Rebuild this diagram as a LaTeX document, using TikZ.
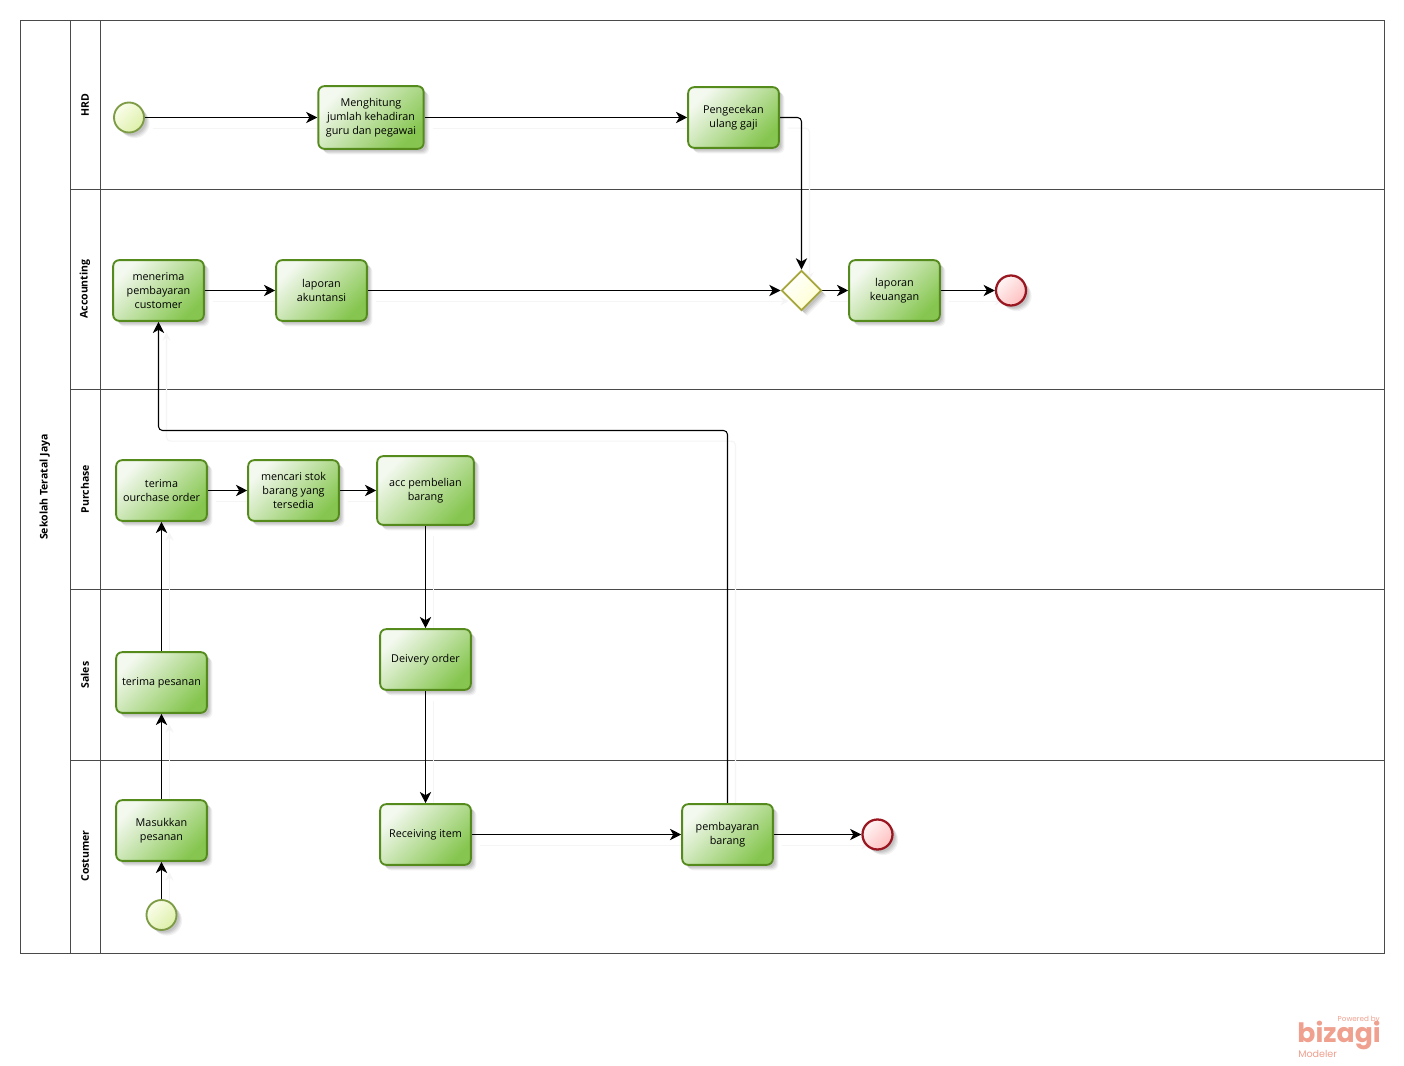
\documentclass[tikz,border=0pt]{standalone}
\usepackage{fontspec}
\setmainfont{Open Sans}
\newfontfamily\logofont{Poppins}
\usetikzlibrary{arrows.meta,shadows,shapes.geometric,calc,backgrounds}
\definecolor{taskline}{HTML}{558A1C}
\definecolor{taskdark}{HTML}{86C650}
\definecolor{tasklight}{HTML}{F4F9F0}
\definecolor{startline}{HTML}{7D9C45}
\definecolor{startlight}{HTML}{FAFDEB}
\definecolor{startdark}{HTML}{DDF0A8}
\definecolor{endline}{HTML}{9A1620}
\definecolor{gateline}{HTML}{A6A63A}
\definecolor{laneline}{HTML}{4A4A4A}
\definecolor{logocol}{HTML}{EFA08E}
\tikzset{
  softshadow/.style={
    drop shadow={shadow xshift=4.2pt,shadow yshift=-4.2pt,opacity=.05,fill=black},
    drop shadow={shadow xshift=3.4pt,shadow yshift=-3.4pt,opacity=.06,fill=black},
    drop shadow={shadow xshift=2.6pt,shadow yshift=-2.6pt,opacity=.07,fill=black},
    drop shadow={shadow xshift=1.8pt,shadow yshift=-1.8pt,opacity=.07,fill=black}},
  taskbox/.style={draw=taskline,line width=1.4pt,rounded corners=4.5pt,softshadow,
    left color=tasklight,right color=taskdark,shading angle=45,
    minimum width=#1,align=center,inner sep=0pt,font=\fontsize{8.1}{10.5}\selectfont},
  taskbox/.default=68pt,
  startev/.style={circle,draw=startline,line width=1.4pt,minimum size=22.5pt,inner sep=0pt,softshadow,
    left color=startlight,right color=startdark,shading angle=45},
  endev/.style={circle,draw=endline,line width=1.7pt,minimum size=22.5pt,inner sep=0pt,softshadow,
    left color=red!4,right color=red!25!white,shading angle=45},
  gate/.style={diamond,aspect=1,draw=gateline,line width=1.4pt,minimum size=30pt,inner sep=0pt,softshadow,
    left color=white,right color=yellow!18!white,shading angle=45},
  conn/.style={draw=black,line width=.8pt,rounded corners=3pt,-{Stealth[length=8.5pt,width=8.5pt,inset=2.5pt]},
    preaction={draw=black!4,line width=.8pt,-{Stealth[length=6pt,width=6pt,inset=2pt]},
      transform canvas={shift={(6pt,-8pt)}}}},
  laneedge/.style={draw=laneline,line width=.7pt},
  lanelabel/.style={rotate=90,font=\fontsize{7.9}{9}\selectfont\bfseries}
}
\begin{document}
\begin{tikzpicture}[x=.75pt,y=-.75pt]
\useasboundingbox (0,0) rectangle (1404,1066);
\begin{scope}[on background layer]
\fill[white] (0,0) rectangle (1404,1066);
% pool and lanes
\draw[laneedge] (20.5,20.5) rectangle (1384.5,953.5);
\draw[laneedge] (70.5,20.5) -- (70.5,953.5);
\draw[laneedge] (100.5,20.5) -- (100.5,953.5);
\draw[laneedge] (70.5,189.5) -- (1384.5,189.5);
\draw[laneedge] (70.5,389.5) -- (1384.5,389.5);
\draw[laneedge] (70.5,589.5) -- (1384.5,589.5);
\draw[laneedge] (70.5,760.5) -- (1384.5,760.5);
\end{scope}
\node[lanelabel] (pool) at (45,487) {Sekolah Teratal Jaya};
\node[lanelabel] (lhrd) at (85,105) {HRD};
\node[lanelabel] (lacc) at (85,289) {Accounting};
\node[lanelabel] (lpur) at (85,489) {Purchase};
\node[lanelabel] (lsal) at (85,675) {Sales};
\node[lanelabel] (lcos) at (85,856) {Costumer};
% events
\node[startev] (s1) at (129,117.5) {};
\node[startev] (s2) at (161.5,915) {};
\node[endev] (e1) at (1011,290.5) {};
\node[endev] (e2) at (877.5,834.5) {};
\node[gate] (g) at (801.5,290.5) {};
% tasks
\node[taskbox=79pt,minimum height=47pt] (hit) at (371,117.5) {Menghitung\\jumlah kehadiran\\guru dan pegawai};
\node[taskbox,minimum height=45.5pt] (cek) at (733.5,117.5) {Pengecekan\\ulang gaji};
\node[taskbox,minimum height=45.5pt] (men) at (158.5,290.5) {menerima\\pembayaran\\customer};
\node[taskbox,minimum height=45.5pt] (aku) at (321.5,290.5) {laporan\\akuntansi};
\node[taskbox,minimum height=45.5pt] (keu) at (894.5,290.5) {laporan\\keuangan};
\node[taskbox,minimum height=45.5pt] (ter) at (161.5,490.5) {terima\\ourchase order};
\node[taskbox,minimum height=45.5pt] (stok) at (293.5,490.5) {mencari stok\\barang yang\\tersedia};
\node[taskbox=72.5pt,minimum height=51.5pt] (acc) at (425.5,490.5) {acc pembelian\\barang};
\node[taskbox,minimum height=45.5pt] (del) at (425.5,659.5) {Deivery order};
\node[taskbox,minimum height=45.5pt] (pes) at (161.5,682.5) {terima pesanan};
\node[taskbox,minimum height=45.5pt] (mas) at (161.5,830.5) {Masukkan\\pesanan};
\node[taskbox,minimum height=45.5pt] (rec) at (425.5,834.5) {Receiving item};
\node[taskbox,minimum height=45.5pt] (pay) at (727.5,834.5) {pembayaran\\barang};
% connectors
\coordinate (turn) at (0,430.5);
\coordinate (cekturn) at (g.north |- cek.east);
\begin{scope}[on background layer]
\draw[conn] (s1.east) -- (hit.west);
\draw[conn] (hit.east) -- (cek.west);
\draw[conn] (cek.east) -- (cekturn) -- (g.north);
\draw[conn] (men.east) -- (aku.west);
\draw[conn] (aku.east) -- (g.west);
\draw[conn] (g.east) -- (keu.west);
\draw[conn] (keu.east) -- (e1.west);
\draw[conn] (ter.east) -- (stok.west);
\draw[conn] (stok.east) -- (acc.west);
\draw[conn] (acc.south) -- (del.north);
\draw[conn] (del.south) -- (rec.north);
\draw[conn] (rec.east) -- (pay.west);
\draw[conn] (pay.east) -- (e2.west);
\draw[conn] (s2.north) -- (mas.south);
\draw[conn] (mas.north) -- (pes.south);
\draw[conn] (pes.north) -- (ter.south);
\draw[conn] (pay.north) -- (pay.north |- turn) -- (men.south |- turn) -- (men.south);
\end{scope}
% logo
\node[anchor=base east,text=logocol,inner sep=0pt,font=\fontsize{5.4}{6}\logofont] (lg1) at (1380,1021) {Powered by};
\node[anchor=base east,text=logocol,inner sep=0pt,font=\fontsize{20}{22}\logofont\bfseries] (lg2) at (1381,1042) {bizagi};
\node[anchor=west,text=logocol,inner sep=0pt,font=\fontsize{7.2}{9}\logofont] (lg3) at (1298,1054) {Modeler};
\end{tikzpicture}
\end{document}
